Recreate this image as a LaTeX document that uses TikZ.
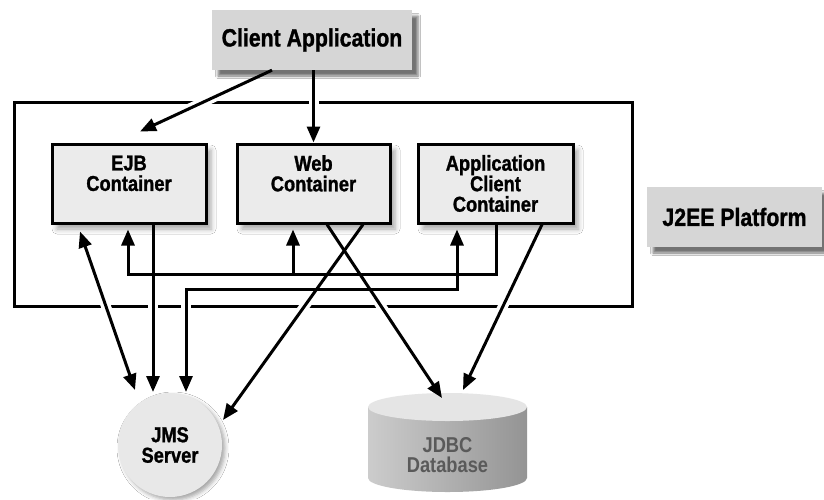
\documentclass[tikz,border=0pt]{standalone}
\usepackage{fontspec}
\newfontfamily\lbl[FakeStretch=0.85,BoldFeatures={FakeBold=1.2}]{Liberation Sans}
\newfontfamily\lblplain[FakeStretch=0.85]{Liberation Sans}
\usetikzlibrary{arrows.meta,calc,shadows.blur}
\definecolor{boxfill}{HTML}{EBEBEB}
\definecolor{tagfill}{HTML}{D6D6D6}
\definecolor{jmsfill}{HTML}{E8E8E8}
\definecolor{dbtext}{HTML}{5A5A5A}
\newcommand\mylinks[1]{%
  \draw[conn,->,#1] ($(client.south)+(-40,0)$) -- ($(ejb.north)+(11,-11)$);
  \draw[conn,->,#1] (web.north |- client.south) -- (web.north);
  \draw[conn,->,#1] ($(acc.south)+(1,0)$) -- ++(0,50) -| ($(ejb.south)+(-1,5)$);
  \draw[conn,->,#1] ($(web.south)+(-20.5,50)$) -- ($(web.south)+(-20.5,5)$);
  \draw[conn,<->,#1] ($(jms.center)+(16,-53)$) -- ++(0,-103) -| ($(acc.south)+(-38.5,5)$);
  \draw[conn,->,#1] ($(ejb.south)+(24,0)$) -- ($(jms.center)+(-17,-53)$);
  \draw[conn,<->,#1] ($(ejb.south)+(-49,7)$) -- ($(jms.center)+(-35,-55)$);
  \draw[conn,->,#1] ($(web.south)+(49.5,0)$) -- ($(jms.center)+(53,-25)$);
  \draw[conn,->,#1] ($(web.south)+(13.5,0)$) -- ($(dbtop)+(-5.5,5)$);
  \draw[conn,->,#1] ($(acc.south)+(46.5,0)$) -- ($(dbtop)+(15.5,-3)$);
}
\begin{document}
\begin{tikzpicture}[x=1pt,y=-1pt,
  >={Triangle[length=16pt,width=13pt]},
  conn/.style={line width=3pt},
  halo/.style={draw=white,line width=10pt,-},
  container/.style={draw,line width=3pt,fill=boxfill,minimum width=#1,minimum height=79pt,
     inner sep=0pt,align=center,font=\lbl\bfseries\fontsize{21.5}{20.5}\selectfont,
     blur shadow={shadow xshift=5pt,shadow yshift=-6pt,shadow opacity=35,shadow blur radius=5pt}},
  tag/.style={fill=tagfill,minimum height=60pt,minimum width=#1,inner sep=0pt,
     font=\lbl\bfseries\fontsize{25}{24}\selectfont,
     blur shadow={shadow xshift=6pt,shadow yshift=-6pt,shadow opacity=55,shadow blur radius=2.5pt}},
]
\useasboundingbox (0,0) rectangle (824,499);
\fill[white] (0,0) rectangle (824,499);

% database cylinder
\shade[left color=black!20,middle color=black!11,right color=black!42]
  (368,407) -- (368,478) arc[start angle=180,end angle=0,x radius=79.5,y radius=14] -- (527,407) -- cycle;
\fill[black!10] (447.5,407) ellipse[x radius=79.5,y radius=14];
\coordinate (dbtop) at (447.5,393);
\node[align=center,text=dbtext,font=\lblplain\bfseries\fontsize{21.5}{20.5}\selectfont] (db) at (447.5,455) {JDBC\\Database};

% platform frame
\node[draw,line width=3pt,minimum width=618pt,minimum height=204pt,inner sep=0pt] (frame) at (323,204) {};

% top label boxes
\node[tag=200pt] (client) at (312,40) {Client Application};
\node[tag=175pt] (plat) at (734.5,217) {J2EE Platform};

% containers
\node[container=154pt] (ejb) at (129,183.5) {EJB\\Container\\\mbox{}};
\node[container=153pt] (web) at (313.5,183.5) {Web\\Container\\\mbox{}};
\node[container=155pt] (acc) at (495.5,183.5) {Application\\Client\\Container};

% JMS server
\node[circle,fill=jmsfill,minimum size=104pt,inner sep=0pt,align=center,
  font=\lbl\bfseries\fontsize{21.5}{20.5}\selectfont,
  blur shadow={shadow xshift=3pt,shadow yshift=-3pt,shadow opacity=35,shadow blur radius=4pt}]
  (jms) at (170,445) {JMS\\Server};

% gaps in frame where connectors cross
\begin{scope}
  \clip (0,96) rectangle (824,108) (0,300) rectangle (824,312);
  \mylinks{halo}
\end{scope}
% connectors
\mylinks{}
\end{tikzpicture}
\end{document}
